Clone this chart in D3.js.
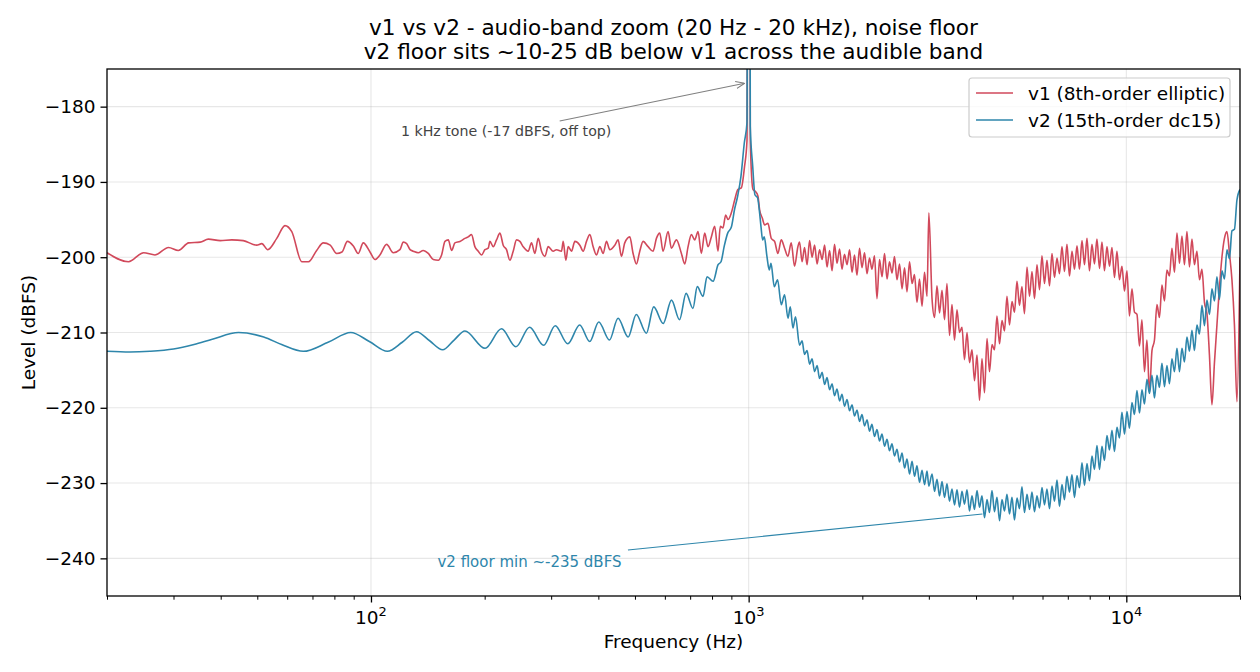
<!DOCTYPE html>
<html>
<head>
<meta charset="utf-8">
<script src="https://cdn.jsdelivr.net/npm/d3@7/dist/d3.min.js"></script>
<style>
  body { margin: 0; background: #fff; }
  svg { display: block; font-family: "DejaVu Sans", sans-serif; }
</style>
</head>
<body>
<svg id="chart" width="1260" height="672"></svg>
<script>
// v1: 20 Hz - 1.35 kHz
const freqLoV1 = [20, 22.8, 25, 26.8, 29.1, 30.9, 32.9, 35.3, 37.1, 39.9, 42.8, 45.9, 49.8, 51.4, 53.3, 56.3, 59.2, 61.7, 65.6, 68.3,
  71.8, 74.8, 78, 81.1, 83.8, 86.6, 89.8, 92.5, 95.4, 99.4, 102.5, 105.6, 110, 114.6,
  119.3, 121.8, 124.3, 126.9, 129.4, 133.4, 137.5, 141.8, 146.2, 150.7, 153.8, 157, 160.2, 163.5, 166.8, 172, 177.3, 180.9, 184.6, 188.4,
  192.3, 196.3, 200.3, 204.4, 206.5, 210.7, 215, 219.5, 223.9, 228.5, 233.2, 238, 242.9, 247.9, 252.9, 260.8, 266.1, 271.6, 277.2, 282.9,
  288.7, 294.6, 303.7, 309.9, 319.5, 322.8, 328.1, 332.8, 339.6, 346.6, 357.3, 364.6, 372.1, 379.7, 387.5, 395.5, 403.6, 411.9, 420.3, 428.9,
  442.2, 451.2, 460.5, 469.9, 484.5, 494.4, 504.5, 514.9, 525.4, 541.7, 558.4, 569.9, 581.6, 593.5, 611.9, 624.5, 643.8, 663.7, 677.3, 691.2,
  705.4, 719.7, 734.5, 749.5, 764.9, 780.6, 796.6, 812.9, 829.6, 841.5, 855.3, 869.3, 881.8, 899.9, 918.3, 937.1, 956.2, 975, 990, 1000,
  1010, 1026.7, 1043.5, 1058.5, 1069.2, 1086.7, 1102.2, 1124.8, 1147.9, 1171.4, 1195.4, 1219.9, 1244.9, 1270.4, 1296.5, 1323.1, 1350.2];
const levelLoV1 = [-199.4, -200.6, -199.4, -199.7, -198.7, -199.1, -198.1, -198.0, -197.6, -197.8, -197.7, -197.8, -198.4, -198.2, -199.0, -197.5, -195.8, -196.6, -200.6, -200.6,
  -199.1, -198.1, -198.4, -199.5, -199.3, -197.9, -198.5, -199.5, -198.1, -199.3, -200.3, -199.7, -198.3, -199.4,
  -199.0, -198.0, -198.2, -199.0, -199.2, -199.4, -199.1, -199.5, -200.3, -200.4, -199.7, -197.9, -197.7, -199.1, -198.1, -197.9, -197.5, -197.3, -197.0, -198.6,
  -199.2, -199.7, -199.0, -198.8, -197.9, -198.6, -197.7, -196.8, -198.4, -199.0, -200.4, -199.2, -197.7, -197.9, -198.6, -199.2, -198.1, -199.5, -197.5, -199.2,
  -199.9, -198.6, -199.2, -199.0, -199.2, -197.9, -200.4, -198.6, -199.2, -197.9, -198.4, -199.2, -197.9, -197.0, -198.6, -199.7, -198.6, -199.5, -197.9, -199.0,
  -198.4, -197.7, -199.9, -198.1, -197.3, -199.5, -200.9, -199.2, -197.9, -198.6, -199.2, -197.5, -196.8, -199.2, -196.6, -198.8, -197.7, -199.5, -200.9, -198.6,
  -197.0, -197.7, -196.6, -199.5, -196.8, -198.6, -197.3, -195.9, -199.2, -195.9, -196.1, -194.4, -195.0, -194.1, -192.4, -191.0, -190.8, -188.0, -184.5, -17,
  -184.5, -191.0, -191.3, -191.9, -193.7, -194.8, -195.7, -195.5, -197.5, -197.9, -199.5, -197.7, -198.8, -199.9, -198.1, -201.2, -198.6];

// v2: 20 Hz - 1.33 kHz
const freqLoV2 = [20, 23, 26, 30, 34, 38, 44.6, 52, 58, 66.2, 77, 88.4, 99, 110.5, 121, 132, 143, 154.8, 166, 177.3,
  200.5, 221.6, 242, 263, 286.6, 307.5, 332, 357, 379.5, 401, 428, 451, 479.6, 504, 536, 560.6, 594, 624.7, 656, 683,
  712, 731, 757, 776, 805, 830, 845, 862, 880, 900, 918, 935, 954, 974, 990, 1000, 1010, 1025, 1039, 1056,
  1067, 1078, 1089, 1100, 1118, 1134, 1146, 1169, 1193, 1220, 1245, 1271, 1289, 1310, 1331];
const levelLoV2 = [-212.5, -212.6, -212.5, -212.2, -211.6, -210.9, -210.0, -210.6, -211.6, -212.5, -211.3, -210.0, -211.2, -212.5, -211.3, -209.9, -211.1, -212.3, -211.0, -209.8,
  -212.1, -209.5, -211.9, -209.3, -211.7, -209.1, -211.5, -209.0, -211.2, -208.6, -211.0, -208.1, -210.6, -207.6, -210.1, -206.6, -208.8, -205.7, -208.3, -204.8,
  -206.8, -203.9, -205.2, -202.6, -203.2, -201.0, -200.6, -198.5, -196.8, -196.0, -193.6, -191.9, -189.3, -184.8, -182.1, -17, -182.6, -187.9, -191.7, -192.1,
  -193.7, -195.9, -197.7, -197.3, -199.9, -201.7, -200.8, -203.9, -203.0, -206.3, -205.0, -208.1, -206.6, -209.4, -207.9];

// shared frequency grid above 1.36 kHz, where both floors turn into dense noise
const freqHi = [1364, 1385, 1406, 1428, 1450, 1472, 1495, 1518, 1541, 1565,
  1589, 1613, 1638, 1663, 1688, 1714, 1741, 1767, 1794, 1822,
  1850, 1878, 1907, 1936, 1966, 1996, 2027, 2058, 2089, 2121,
  2154, 2187, 2221, 2255, 2290, 2325, 2360, 2397, 2433, 2471,
  2509, 2548, 2587, 2626, 2667, 2708, 2749, 2791, 2834, 2878,
  2922, 2967, 3000, 3059, 3106, 3153, 3202, 3251, 3301, 3351,
  3403, 3455, 3508, 3562, 3617, 3672, 3728, 3786, 3844, 3903,
  3963, 4024, 4086, 4148, 4212, 4277, 4342, 4409, 4476, 4545,
  4616, 4686, 4758, 4831, 4905, 4981, 5057, 5135, 5213, 5293,
  5375, 5458, 5542, 5627, 5713, 5801, 5890, 5980, 6072, 6165,
  6260, 6356, 6454, 6553, 6653, 6755, 6859, 6964, 7071, 7180,
  7291, 7403, 7516, 7632, 7749, 7868, 7988, 8111, 8235, 8362,
  8491, 8621, 8753, 8888, 9024, 9163, 9303, 9446, 9591, 9738,
  9889, 10040, 10194, 10351, 10510, 10671, 10835, 11001, 11170, 11341,
  11516, 11693, 11872, 12054, 12239, 12427, 12618, 12811, 13008, 13208,
  13412, 13618, 13827, 14039, 14254, 14473, 14695, 14921, 15150, 15382,
  15620, 15860, 16103, 16350, 16601, 16856, 17115, 17377, 17644, 17915,
  18191, 18470, 18754, 19042, 19334, 19631, 20000];
const levelHiV1 = [-198.0, -200.6, -198.7, -201.0, -197.8, -200.0, -198.4, -200.9, -199.0, -200.3,
  -198.4, -201.3, -199.1, -201.8, -198.3, -200.8, -198.9, -201.6, -199.6, -201.0,
  -199.0, -202.0, -199.7, -202.4, -198.8, -201.4, -199.4, -202.2, -200.1, -201.6,
  -199.8, -205.5, -200.3, -202.6, -199.5, -202.9, -200.6, -202.1, -199.9, -203.0,
  -200.9, -204.2, -201.4, -204.6, -200.6, -203.5, -202.3, -206.0, -202.9, -206.5,
  -202.0, -205.2, -194.1, -205.5, -208.0, -203.8, -207.4, -204.4, -208.3, -203.5,
  -210.4, -206.3, -211.0, -207.0, -210.0, -209.3, -213.6, -210.0, -214.0, -212.3,
  -216.4, -213.0, -219.0, -213.5, -218.0, -210.8, -215.2, -211.6, -212.3, -207.8,
  -211.5, -208.4, -209.8, -205.2, -209.0, -205.9, -207.3, -203.2, -206.4, -203.9,
  -207.5, -201.3, -205.2, -201.9, -205.5, -201.0, -204.3, -199.8, -203.5, -200.4,
  -203.8, -199.5, -202.7, -200.1, -202.2, -198.6, -201.9, -198.3, -202.5, -199.2,
  -201.6, -198.5, -201.6, -197.8, -201.0, -197.5, -201.8, -198.3, -200.9, -197.6,
  -201.5, -198.0, -201.8, -198.6, -201.2, -198.7, -202.7, -199.2, -203.0, -201.2,
  -204.5, -201.8, -207.8, -204.2, -207.3, -207.6, -211.8, -208.3, -215.2, -211.0,
  -218.0, -212.4, -211.0, -206.3, -208.0, -203.7, -205.8, -201.7, -202.5, -198.8,
  -202.0, -196.8, -200.8, -197.2, -201.0, -196.6, -201.3, -197.6, -201.0, -199.2,
  -203.0, -201.6, -206.0, -207.5, -213.0, -219.6, -214.0, -209.0, -204.0, -200.0,
  -197.5, -196.6, -199.5, -203.0, -209.0, -219.2, -200.0];
const levelHiV2 = [-211.7, -211.1, -212.9, -212.4, -214.2, -213.5, -215.2, -214.4, -216.1, -215.3,
  -216.9, -216.0, -217.6, -216.8, -218.4, -217.5, -219.1, -218.2, -219.8, -218.9,
  -220.4, -219.6, -221.1, -220.3, -221.8, -220.9, -222.4, -221.6, -223.1, -222.2,
  -223.8, -222.9, -224.4, -223.5, -225.1, -224.2, -225.7, -224.8, -226.4, -225.5,
  -227.2, -226.0, -228.0, -226.8, -228.8, -227.1, -229.1, -227.7, -229.9, -228.3,
  -230.2, -228.4, -230.4, -228.8, -231.1, -229.5, -231.7, -229.8, -231.9, -230.1,
  -232.4, -230.8, -232.9, -230.9, -233.2, -231.1, -232.8, -230.9, -233.7, -231.7,
  -233.5, -231.0, -233.2, -231.7, -234.6, -232.2, -233.9, -231.0, -233.8, -231.9,
  -235.0, -232.2, -233.7, -231.5, -234.1, -231.9, -234.9, -232.0, -233.4, -230.5,
  -233.9, -231.5, -233.5, -231.2, -233.8, -231.7, -233.3, -230.6, -232.9, -230.8,
  -233.4, -230.4, -232.4, -229.6, -233.1, -230.2, -232.2, -229.1, -231.2, -228.9,
  -231.9, -229.0, -230.6, -227.3, -230.3, -227.4, -229.7, -226.4, -228.2, -225.0,
  -228.2, -225.1, -227.0, -223.7, -225.6, -223.0, -225.8, -222.6, -224.0, -220.6,
  -223.5, -220.5, -222.7, -219.3, -220.9, -217.7, -220.7, -217.6, -219.5, -216.2,
  -218.1, -215.7, -218.7, -215.7, -217.3, -214.1, -217.2, -214.4, -216.8, -213.5,
  -215.2, -212.1, -215.2, -212.1, -213.9, -210.6, -212.5, -209.7, -212.4, -209.0,
  -210.2, -206.4, -209.1, -205.7, -207.6, -204.2, -205.8, -202.6, -205.6, -201.8,
  -202.9, -199.0, -200.2, -196.5, -196.3, -192.4, -191.0];

const seriesNames = ["v1 (8th-order elliptic)", "v2 (15th-order dc15)"];
const seriesColors = ["#d1495b", "#2e86ab"];
const yTicks = [-180, -190, -200, -210, -220, -230, -240];
const xMajorTicks = [100, 1000, 10000];
const xMinorTicks = [20, 30, 40, 50, 60, 70, 80, 90, 200, 300, 400, 500, 600, 700, 800, 900,
  2000, 3000, 4000, 5000, 6000, 7000, 8000, 9000, 20000];
const titleLines = ["v1 vs v2 - audio-band zoom (20 Hz - 20 kHz), noise floor",
  "v2 floor sits ~10-25 dB below v1 across the audible band"];

const plotL = 107, plotR = 1240, plotT = 69, plotB = 596;
const baseFont = 18.5;

const svg = d3.select("#chart");

const x = d3.scaleLog().domain([20, 20000]).range([plotL, plotR]);
const y = d3.scaleLinear().domain([-245, -175]).range([plotB, plotT]);

const v1 = freqLoV1.map((f, i) => ({f: f, v: levelLoV1[i]}))
  .concat(freqHi.map((f, i) => ({f: f, v: levelHiV1[i]})));
const v2 = freqLoV2.map((f, i) => ({f: f, v: levelLoV2[i]}))
  .concat(freqHi.map((f, i) => ({f: f, v: levelHiV2[i]})));

const defs = svg.append("defs");
defs.append("clipPath").attr("id", "plotclip")
  .append("rect").attr("x", plotL).attr("y", plotT)
  .attr("width", plotR - plotL).attr("height", plotB - plotT);

// grid
const grid = svg.append("g");
grid.selectAll(".gy").data(yTicks).enter().append("line")
  .attr("x1", plotL).attr("x2", plotR)
  .attr("y1", d => y(d)).attr("y2", d => y(d))
  .attr("stroke", "#b0b0b0").attr("stroke-opacity", 0.3).attr("stroke-width", 1.1);
grid.selectAll(".gx").data(xMajorTicks).enter().append("line")
  .attr("x1", d => x(d)).attr("x2", d => x(d))
  .attr("y1", plotT).attr("y2", plotB)
  .attr("stroke", "#b0b0b0").attr("stroke-opacity", 0.3).attr("stroke-width", 1.1);

// series
const line = d3.line()
  .x(d => x(d.f))
  .y(d => y(d.v))
  .curve(d3.curveMonotoneX);

const plot = svg.append("g").attr("clip-path", "url(#plotclip)");
[v1, v2].forEach((s, i) => {
  plot.append("path")
    .datum(s)
    .attr("d", line)
    .attr("fill", "none")
    .attr("stroke", seriesColors[i])
    .attr("stroke-width", 1.6)
    .attr("stroke-linejoin", "round");
});

// annotations
defs.append("marker")
  .attr("id", "arrowhead").attr("viewBox", "0 -5 10 10")
  .attr("refX", 10).attr("refY", 0)
  .attr("markerWidth", 9).attr("markerHeight", 9)
  .attr("markerUnits", "userSpaceOnUse")
  .attr("orient", "auto")
  .append("path").attr("d", "M0,-4L10,0L0,4")
  .attr("fill", "none").attr("stroke", "#808080").attr("stroke-width", 1.2);

svg.append("line")
  .attr("x1", x(316)).attr("y1", y(-181.9))
  .attr("x2", x(976)).attr("y2", y(-176.9))
  .attr("stroke", "#808080").attr("stroke-width", 1.1)
  .attr("marker-end", "url(#arrowhead)");
svg.append("text")
  .attr("x", x(120)).attr("y", y(-183.3))
  .attr("dy", "0.35em")
  .attr("font-size", 14.2).attr("fill", "#444444")
  .text("1 kHz tone (-17 dBFS, off top)");

svg.append("line")
  .attr("x1", x(479)).attr("y1", y(-238.9))
  .attr("x2", x(4160)).attr("y2", y(-234.1))
  .attr("stroke", seriesColors[1]).attr("stroke-width", 1.1);
svg.append("text")
  .attr("x", x(150)).attr("y", y(-240.4))
  .attr("dy", "0.35em")
  .attr("font-size", 15).attr("fill", seriesColors[1])
  .text("v2 floor min ~-235 dBFS");

// axes
const yAxis = svg.append("g")
  .attr("transform", "translate(" + plotL + ",0)")
  .call(d3.axisLeft(y).tickValues(yTicks).tickSize(6.5).tickPadding(5)
    .tickFormat(d => "\u2212" + Math.abs(d)));
yAxis.select(".domain").remove();
yAxis.selectAll("text").attr("font-size", baseFont).attr("font-family", "DejaVu Sans").attr("fill", "#000");
yAxis.selectAll("line").attr("stroke-width", 1.3);

const xAxis = svg.append("g")
  .attr("transform", "translate(0," + plotB + ")")
  .call(d3.axisBottom(x).tickValues(xMajorTicks).tickSize(6.5).tickFormat(""));
xAxis.select(".domain").remove();
xAxis.selectAll("line").attr("stroke-width", 1.3);

const xMinor = svg.append("g")
  .attr("transform", "translate(0," + plotB + ")")
  .call(d3.axisBottom(x).tickValues(xMinorTicks).tickSize(3.7).tickFormat(""));
xMinor.select(".domain").remove();
xMinor.selectAll("line").attr("stroke-width", 1);

const xLabels = svg.append("g");
xMajorTicks.forEach(t => {
  const lab = xLabels.append("text")
    .attr("x", x(t)).attr("y", plotB + 28)
    .attr("text-anchor", "middle")
    .attr("font-size", baseFont).attr("fill", "#000");
  lab.append("tspan").text("10");
  lab.append("tspan").attr("dy", -8).attr("font-size", 13).text(String(Math.round(Math.log10(t))));
});

// frame
svg.append("rect")
  .attr("x", plotL).attr("y", plotT)
  .attr("width", plotR - plotL).attr("height", plotB - plotT)
  .attr("fill", "none").attr("stroke", "#000").attr("stroke-width", 1.3);

// labels and title
svg.append("text")
  .attr("x", (plotL + plotR) / 2).attr("y", 648)
  .attr("text-anchor", "middle").attr("font-size", baseFont)
  .text("Frequency (Hz)");
svg.append("text")
  .attr("transform", "translate(35," + ((plotT + plotB) / 2) + ") rotate(-90)")
  .attr("text-anchor", "middle").attr("font-size", baseFont)
  .text("Level (dBFS)");

titleLines.forEach((t, i) => {
  svg.append("text")
    .attr("x", (plotL + plotR) / 2).attr("y", 35 + i * 24)
    .attr("text-anchor", "middle").attr("font-size", 21.6)
    .text(t);
});

// legend
const legend = svg.append("g");
legend.append("rect")
  .attr("x", 969).attr("y", 78).attr("width", 261).attr("height", 59)
  .attr("rx", 3).attr("fill", "#fff").attr("fill-opacity", 0.8)
  .attr("stroke", "#cccccc").attr("stroke-width", 1.2);
seriesNames.forEach((name, i) => {
  const ly = 93 + i * 27;
  legend.append("line")
    .attr("x1", 976).attr("x2", 1013).attr("y1", ly).attr("y2", ly)
    .attr("stroke", seriesColors[i]).attr("stroke-width", 1.6);
  legend.append("text")
    .attr("x", 1028).attr("y", ly + 1).attr("dy", "0.35em")
    .attr("font-size", baseFont).text(name);
});
</script>
</body>
</html>
